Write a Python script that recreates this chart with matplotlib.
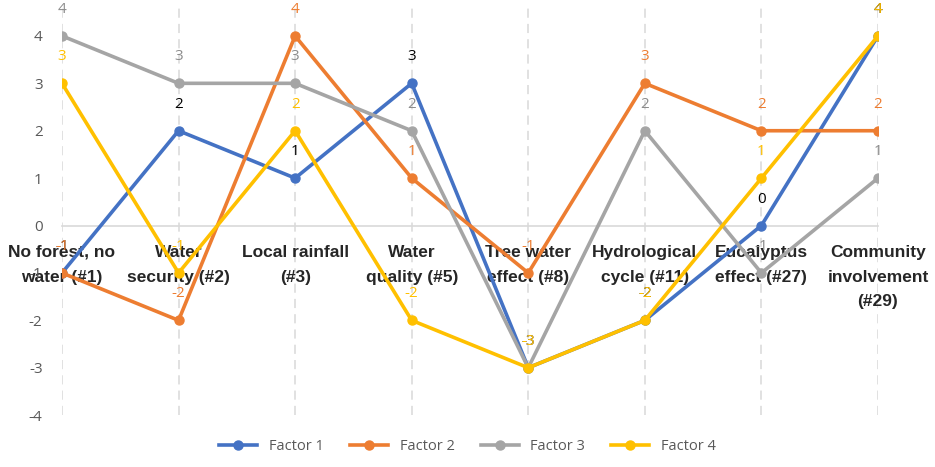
import numpy as np
import matplotlib.pyplot as plt

# categorias e escores dos fatores
categorias = ['No forest, no\nwater (#1)', 'Water\nsecurity (#2)', 'Local rainfall\n(#3)',
              'Water\nquality (#5)', 'Tree water\neffect (#8)', 'Hydrological\ncycle (#11)',
              'Eucalyptus\neffect (#27)', 'Community\ninvolvement\n(#29)']
fator1 = [-1, 2, 1, 3, -3, -2, 0, 4]
fator2 = [-1, -2, 4, 1, -1, 3, 2, 2]
fator3 = [4, 3, 3, 2, -3, 2, -1, 1]
fator4 = [3, -1, 2, -2, -3, -2, 1, 4]
nomes = ['Factor 1', 'Factor 2', 'Factor 3', 'Factor 4']
yticks = [-4, -3, -2, -1, 0, 1, 2, 3, 4]

cores = ['#4472C4', '#ED7D31', '#A5A5A5', '#FFC000']
cores_rotulo = ['#000000', '#ED7D31', '#8C8C8C', '#FFC000']

plt.rcParams['font.family'] = ['Open Sans', 'DejaVu Sans']

fig = plt.figure(figsize=(9.35, 4.67), dpi=100)
ax = fig.add_axes([0.0663, 0.111, 0.8727, 0.873])

x = np.arange(len(categorias))
series = [fator1, fator2, fator3, fator4]
for i, s in enumerate(series):
    ax.plot(x, s, color=cores[i], lw=2.6, marker='o', ms=6.5, label=nomes[i], zorder=3 + i)
    for xi, yi in zip(x, s):
        ax.annotate(str(yi), (xi, yi), xytext=(0, 19), textcoords='offset points',
                    ha='center', va='center', fontsize=11, color=cores_rotulo[i],
                    annotation_clip=False, zorder=8)

# eixo horizontal no zero (antes dos rótulos, senão os ticks são recriados)
for lado in ['top', 'right', 'left']:
    ax.spines[lado].set_visible(False)
ax.spines['bottom'].set_position(('data', 0))
ax.spines['bottom'].set_color('#D9D9D9')
ax.spines['bottom'].set_linewidth(1.2)

ax.set_xlim(0, len(categorias) - 1)
ax.set_ylim(-4, 4.6)
ax.set_yticks(yticks)
ax.set_yticklabels([str(v) for v in yticks])
ax.set_xticks(x)
ax.set_xticklabels(categorias, fontweight='bold', fontsize=12.5, color='#262626',
                   linespacing=1.8, family=['Liberation Sans', 'DejaVu Sans'])

ax.tick_params(axis='x', length=0, pad=14)
ax.tick_params(axis='y', length=0, pad=14, labelsize=11, labelcolor='#595959')
ax.xaxis.grid(True, linestyle=(0, (6, 4)), color='#D9D9D9', lw=1.1)
ax.set_axisbelow(True)

fig.legend(loc='lower center', bbox_to_anchor=(0.5, 0.0), ncol=4, frameon=False,
           fontsize=10.5, labelcolor='#595959', handlelength=2.6, columnspacing=1.8)

plt.savefig('out.png', dpi=100)
